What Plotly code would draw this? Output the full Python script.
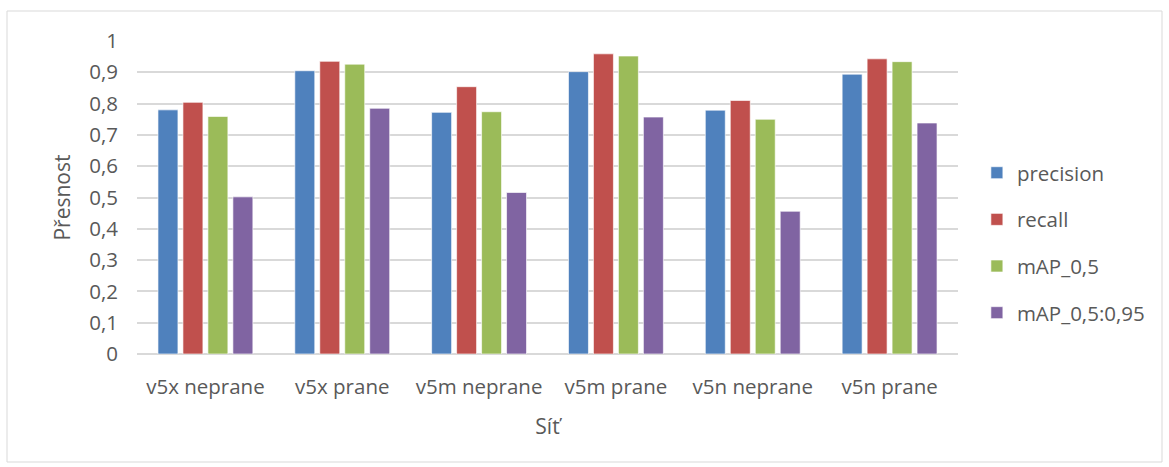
import plotly.graph_objects as go

categories = ["v5x neprane", "v5x prane", "v5m neprane", "v5m prane", "v5n neprane", "v5n prane"]
precision = [0.780, 0.905, 0.772, 0.902, 0.779, 0.894]
recall = [0.804, 0.935, 0.854, 0.959, 0.810, 0.943]
map_05 = [0.759, 0.926, 0.774, 0.952, 0.750, 0.934]
map_05_095 = [0.502, 0.785, 0.516, 0.757, 0.456, 0.738]

series = [
    ("precision", precision, "#4F81BD"),
    ("recall", recall, "#C0504D"),
    ("mAP_0,5", map_05, "#9BBB59"),
    ("mAP_0,5:0,95", map_05_095, "#8064A2"),
]

tick_vals = [i / 10 for i in range(11)]
tick_text = ["0"] + ["0," + str(i) for i in range(1, 10)] + ["1"]

FONT = "'Open Sans', 'Noto Sans', sans-serif"
TEXT = "#595959"
FS = 20.5

fig = go.Figure()
for name, vals, color in series:
    fig.add_trace(go.Bar(
        x=categories, y=vals, name=name, legendgroup=name,
        marker=dict(color=color, line=dict(color="rgba(255,255,255,0.8)", width=0.8)),
    ))

W, H = 1169, 467
ml, mr, mt, mb = 137, 211, 41, 113
pw, ph = W - ml - mr, H - mt - mb

fig.update_layout(
    width=W, height=H,
    margin=dict(l=ml, r=mr, t=mt, b=mb),
    paper_bgcolor="white", plot_bgcolor="white",
    barmode="group", bargap=0.27, bargroupgap=0.2,
    font=dict(family=FONT, size=FS, color=TEXT),
    showlegend=True,
    legend=dict(
        x=1.023, xanchor="left", y=0.355, yanchor="middle",
        font=dict(family=FONT, size=FS, color=TEXT),
        tracegroupgap=17, itemwidth=30,
    ),
    xaxis=dict(
        title=dict(text="Síť", font=dict(size=21, color=TEXT), standoff=20),
        tickfont=dict(size=FS, color=TEXT),
        showline=False, ticks="", showgrid=False,
        ticklabelstandoff=18,
    ),
    yaxis=dict(
        title=dict(text="Přesnost", font=dict(size=21, color=TEXT), standoff=12),
        range=[0, 1], tickvals=tick_vals, ticktext=tick_text,
        tickfont=dict(size=FS, color=TEXT),
        showgrid=True, gridcolor="#D9D9D9", gridwidth=1.5,
        zeroline=True, zerolinecolor="#D9D9D9", zerolinewidth=1.5,
        showline=False, ticks="", ticklabelstandoff=18,
    ),
)

# thin frame around the whole chart area
fig.add_shape(
    type="rect", xref="paper", yref="paper",
    x0=(7 - ml) / pw, x1=(1162 - ml) / pw,
    y0=(H - mb - 462) / ph, y1=(H - mb - 11) / ph,
    line=dict(color="#D9D9D9", width=1), layer="below",
)

fig.write_html("out.html")
